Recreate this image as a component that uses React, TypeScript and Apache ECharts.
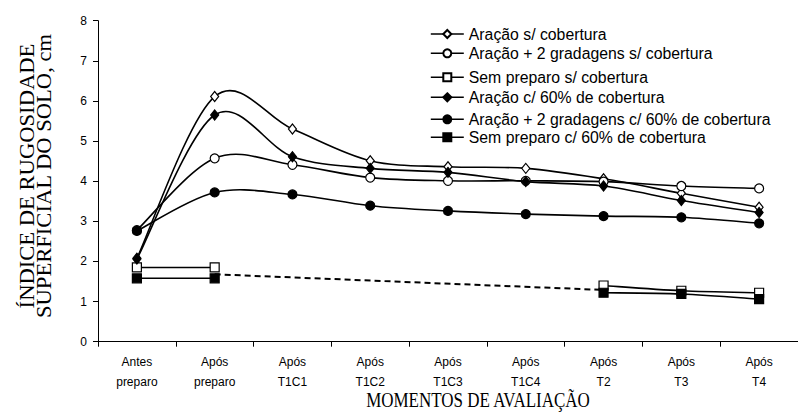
import React, { useEffect, useRef } from 'react';
import * as echarts from 'echarts';

const categories = [
  'Antes\npreparo',
  'Após\npreparo',
  'Após\nT1C1',
  'Após\nT1C2',
  'Após\nT1C3',
  'Após\nT1C4',
  'Após\nT2',
  'Após\nT3',
  'Após\nT4',
];

const seriesNames = [
  'Aração s/ cobertura',
  'Aração + 2 gradagens s/ cobertura',
  'Sem preparo s/ cobertura',
  'Aração c/ 60% de cobertura',
  'Aração + 2 gradagens c/ 60% de cobertura',
  'Sem preparo c/ 60% de cobertura',
];

const aracaoSem = [2.08, 6.11, 5.3, 4.51, 4.36, 4.32, 4.06, 3.7, 3.35];
const aracaoGradSem = [2.78, 4.57, 4.41, 4.09, 4.01, 4.01, 3.99, 3.88, 3.82];
const semPreparoSem = [1.85, 1.85, null, null, null, null, 1.4, 1.27, 1.22];
const aracaoCom = [2.06, 5.65, 4.61, 4.32, 4.22, 3.99, 3.88, 3.52, 3.22];
const aracaoGradCom = [2.76, 3.72, 3.67, 3.39, 3.26, 3.18, 3.13, 3.1, 2.95];
const semPreparoCom = [1.58, 1.58, null, null, null, null, 1.22, 1.19, 1.06];
const dashedLink = [null, 1.68, null, null, null, null, 1.29, null, null];

const yTicks = { min: 0, max: 8, interval: 1 };

export default function App() {
  const ref = useRef<HTMLDivElement>(null);

  useEffect(() => {
    const chart = echarts.init(ref.current!, null, { renderer: 'svg' });
    const lineW = 1.6;

    // Excel-like smoothed line (Catmull-Rom, 1/6 tangents) drawn through the axes' scales
    const curve = (arr: (number | null)[]) => ({
      type: 'custom',
      coordinateSystem: 'cartesian2d',
      data: arr.map((v, i) => [i, v == null ? 0 : v]),
      encode: { x: 0, y: 1 },
      silent: true,
      clip: false,
      renderItem: (params: any, api: any) => {
        const i = params.dataIndex;
        const v1 = arr[i];
        const v2 = arr[i + 1];
        if (v1 == null || v2 == null || i + 1 >= arr.length) {
          return { type: 'group', children: [] };
        }
        const pt = (k: number) => api.coord([k, arr[k]]);
        const p1 = pt(i);
        const p2 = pt(i + 1);
        const p0 = i - 1 >= 0 && arr[i - 1] != null ? pt(i - 1) : p1;
        const p3 = i + 2 < arr.length && arr[i + 2] != null ? pt(i + 2) : p2;
        return {
          type: 'bezierCurve',
          shape: {
            x1: p1[0],
            y1: p1[1],
            cpx1: p1[0] + (p2[0] - p0[0]) / 6,
            cpy1: p1[1] + (p2[1] - p0[1]) / 6,
            cpx2: p2[0] - (p3[0] - p1[0]) / 6,
            cpy2: p2[1] - (p3[1] - p1[1]) / 6,
            x2: p2[0],
            y2: p2[1],
          },
          style: { stroke: '#000', lineWidth: lineW, fill: 'none' },
        };
      },
    });

    const mk = (
      name: string,
      data: (number | null)[],
      symbol: string,
      size: number | number[],
      filled: boolean
    ) => ({
      name,
      type: 'line',
      data,
      symbol,
      symbolSize: size,
      showAllSymbol: true,
      connectNulls: false,
      lineStyle: { color: '#000', width: lineW, opacity: 0 },
      itemStyle: {
        color: filled ? '#000' : '#fff',
        borderColor: '#000',
        borderWidth: 1.2,
      },
      emphasis: { disabled: true },
    });

    const legendCenters = [34, 53.3, 77.3, 97.3, 119.3, 137.3];
    const seriesData = [aracaoSem, aracaoGradSem, semPreparoSem, aracaoCom, aracaoGradCom, semPreparoCom];
    const symbols: [string, number | number[], boolean][] = [
      ['diamond', [8, 10], false],
      ['circle', 9, false],
      ['rect', 9, false],
      ['diamond', [8, 10], true],
      ['circle', 9, true],
      ['rect', 9, true],
    ];

    const series: any[] = [
      {
        name: 'ligação',
        type: 'line',
        data: dashedLink,
        connectNulls: true,
        symbol: 'none',
        lineStyle: { color: '#000', width: 2, type: [6, 4] },
        emphasis: { disabled: true },
        z: 1,
      },
    ];
    seriesData.forEach((d, k) => {
      series.push(curve(d));
      series.push(mk(seriesNames[k], d, symbols[k][0], symbols[k][1], symbols[k][2]));
    });

    chart.setOption({
      animation: false,
      grid: { left: 98, top: 20.7, width: 710, height: 321, containLabel: false },
      xAxis: {
        type: 'category',
        data: categories,
        boundaryGap: true,
        axisLine: { show: true, lineStyle: { color: '#000', width: 1 } },
        axisTick: { show: true, length: 5, alignWithLabel: false, lineStyle: { color: '#000' } },
        axisLabel: {
          interval: 0,
          fontSize: 12,
          lineHeight: 20,
          margin: 10,
          color: '#000',
          fontFamily: 'Liberation Sans, Arial',
        },
        splitLine: { show: false },
      },
      yAxis: {
        type: 'value',
        min: yTicks.min,
        max: yTicks.max,
        interval: yTicks.interval,
        axisLine: { show: true, lineStyle: { color: '#000', width: 1 } },
        axisTick: { show: true, length: 5, lineStyle: { color: '#000' } },
        axisLabel: { fontSize: 12, margin: 11, color: '#000', fontFamily: 'Liberation Sans, Arial' },
        splitLine: { show: false },
      },
      legend: seriesNames.map((n, i) => ({
        data: [n],
        left: 430,
        top: legendCenters[i] - 8,
        padding: 0,
        itemWidth: 33,
        itemHeight: 10,
        selectedMode: false,
        lineStyle: { color: '#000', width: lineW, opacity: 1, type: 'solid' },
        textStyle: { fontSize: 15.8, color: '#000', fontFamily: 'Liberation Sans, Arial' },
      })),
      graphic: [
        {
          type: 'text',
          x: 36,
          y: 176,
          rotation: Math.PI / 2,
          scaleX: 1.13,
          style: {
            text: 'ÍNDICE DE RUGOSIDADE\nSUPERFICIAL DO SOLO, cm',
            fontSize: 20,
            fontFamily: 'Liberation Serif, Times New Roman',
            lineHeight: 17,
            align: 'center',
            verticalAlign: 'middle',
            fill: '#000',
          },
        },
        {
          type: 'text',
          x: 478,
          y: 400,
          scaleY: 1.2,
          style: {
            text: 'MOMENTOS DE AVALIAÇÃO',
            fontSize: 17,
            fontFamily: 'Liberation Serif, Times New Roman',
            align: 'center',
            verticalAlign: 'middle',
            fill: '#000',
          },
        },
      ],
      series,
    });
    return () => chart.dispose();
  }, []);

  return (
    <div
      ref={ref}
      style={{ position: 'fixed', left: 0, top: 0, width: 798, height: 412, background: '#fff' }}
    />
  );
}
